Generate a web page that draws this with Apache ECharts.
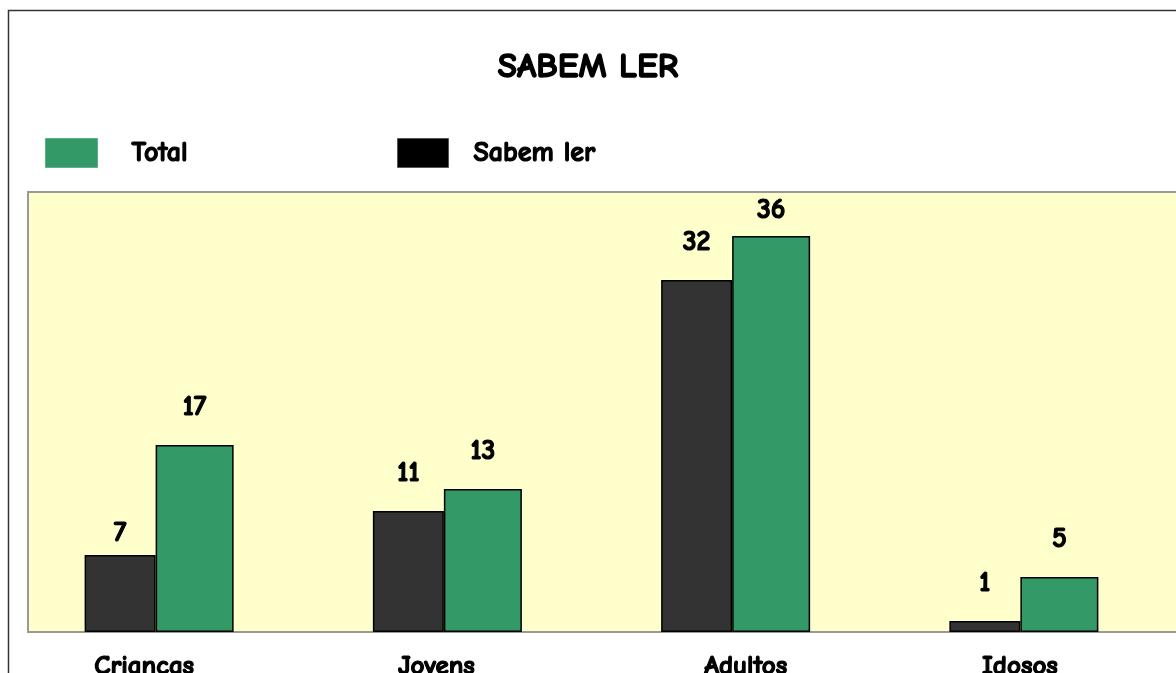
<!DOCTYPE html>
<html>
<head>
<meta charset="utf-8">
<script src="https://cdn.jsdelivr.net/npm/echarts@6/dist/echarts.min.js"></script>
<style>
  html, body { margin: 0; padding: 0; background: #ffffff; }
  #chart { width: 1176px; height: 673px; }
</style>
</head>
<body>
<div id="chart"></div>
<script>
// Literacy by age group
const categories = ['Criancas', 'Jovens', 'Adultos', 'Idosos'];
const sabemLer = [7, 11, 32, 1];
const total = [17, 13, 36, 5];
const titleText = 'SABEM LER';
const seriesNames = ['Sabem ler', 'Total'];

const FONT = '"Comic Sans MS", "Comic Neue", "DejaVu Sans", sans-serif';

// heavy text: the comic face has no bold cut here, so thicken it with a stroke
function heavy(size, stroke) {
  return {
    fontFamily: FONT,
    fontWeight: 'bold',
    fontSize: size,
    color: '#000',
    textBorderColor: '#000',
    textBorderWidth: stroke
  };
}

// label spacing above bars (a couple of labels sit closer to their bar)
const defaultDist = 24;
const distSabem = { 0: 8 };
const distTotal = { 2: 12 };

// small horizontal nudges of the category names (px, + = right)
const catNudge = [-15, -11, 10, -4];

function withLabels(values, distMap) {
  return values.map((v, i) => {
    const item = { value: v };
    if (distMap[i] !== undefined) item.label = { distance: distMap[i] };
    return item;
  });
}

const categoryItems = categories.map((c, i) => {
  const n = catNudge[i];
  const pad = n < 0 ? [0, -2 * n, 0, 0] : [0, 0, 0, 2 * n];
  return { value: c, textStyle: { padding: pad } };
});

const chart = echarts.init(document.getElementById('chart'), null, { renderer: 'canvas' });

const labelStyle = Object.assign({ show: true, position: 'top', distance: defaultDist }, heavy(28, 1.2));

chart.setOption({
  animation: false,
  backgroundColor: '#ffffff',
  title: {
    text: titleText,
    left: 'center',
    top: 45,
    textStyle: heavy(35, 1.4)
  },
  legend: [
    {
      left: 45, top: 138, padding: 0,
      itemWidth: 52, itemHeight: 29,
      icon: 'rect',
      data: [{ name: 'Total', itemStyle: { color: '#339966', borderColor: '#5fb08a', borderWidth: 1 } }],
      textStyle: Object.assign(heavy(28, 1.2), { padding: [0, 0, 0, 29] }),
      selectedMode: false
    },
    {
      left: 397, top: 138, padding: 0,
      itemWidth: 51, itemHeight: 29,
      icon: 'rect',
      data: [{ name: 'Sabem ler', itemStyle: { color: '#000000', borderColor: '#555', borderWidth: 1 } }],
      textStyle: Object.assign(heavy(28, 1.2), { padding: [0, 0, 0, 20] }),
      selectedMode: false
    }
  ],
  graphic: [
    {
      type: 'rect', z: -10, silent: true,
      shape: { x: 8.5, y: 10.5, width: 1300, height: 800 },
      style: { fill: '#ffffff', stroke: '#333333', lineWidth: 1.5 }
    },
    {
      type: 'rect', z: -5, silent: true,
      shape: { x: 28, y: 192, width: 1300, height: 440 },
      style: { fill: '#FFFFCC', stroke: '#999999', lineWidth: 2 }
    }
  ],
  grid: {
    left: 15, width: 1153, top: 192, height: 440,
    containLabel: false,
    outerBoundsMode: 'none'
  },
  xAxis: {
    type: 'category',
    data: categoryItems,
    axisLine: { show: false },
    axisTick: { show: false },
    axisLabel: Object.assign({ margin: 21 }, heavy(27, 1.2))
  },
  yAxis: {
    type: 'value',
    min: 0, max: 40, interval: 10,
    show: false,
    splitLine: { show: false }
  },
  series: [
    {
      name: seriesNames[0],
      type: 'bar',
      barWidth: 71,
      barGap: '0%',
      data: withLabels(sabemLer, distSabem),
      itemStyle: { color: '#333333', borderColor: '#000', borderWidth: 1.5 },
      label: labelStyle
    },
    {
      name: seriesNames[1],
      type: 'bar',
      barWidth: 78,
      barGap: '0%',
      data: withLabels(total, distTotal),
      itemStyle: { color: '#339966', borderColor: '#000', borderWidth: 1.5 },
      label: labelStyle
    }
  ]
});
</script>
</body>
</html>
